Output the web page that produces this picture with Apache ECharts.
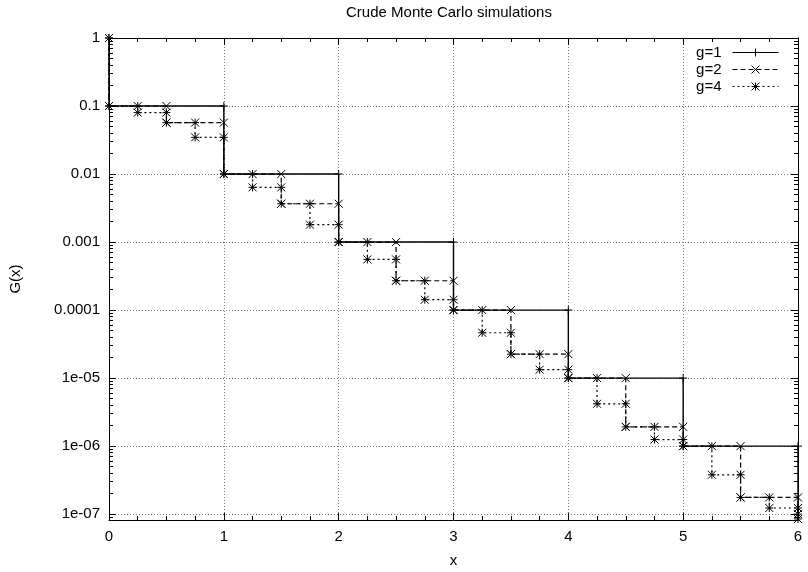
<!DOCTYPE html>
<html><head><meta charset="utf-8">
<script src="https://cdn.jsdelivr.net/npm/echarts@6/dist/echarts.min.js"></script>
<style>html,body{margin:0;padding:0;background:#fff}#c{width:808px;height:572px}</style>
</head><body><div id="c"></div>
<script>
// ---- data ----
const titleText = 'Crude Monte Carlo simulations';
const seriesNames = ['g=1', 'g=2', 'g=4'];
const xTickLabels = ['0', '1', '2', '3', '4', '5', '6'];
const yTickValues = [1, 0.1, 0.01, 0.001, 0.0001, 1e-5, 1e-6, 1e-7];
const yTickLabels = ['1', '0.1', '0.01', '0.001', '0.0001', '1e-05', '1e-06', '1e-07'];

// g=1 : steps of width 1
const g1Start = 1;
const g1Breaks = [0, 1, 2, 3, 4, 5, 6];
const g1Levels = [0.1, 0.01, 0.001, 1e-4, 1e-5, 1e-6];
const g1End = 1e-7;

// g=2 : steps of width 0.5
const g2Start = 1;
const g2Breaks = [0, 0.5, 1, 1.5, 2, 2.5, 3, 3.5, 4, 4.5, 5, 5.5, 6];
const g2Levels = [0.1, 0.057, 0.01, 0.00366, 0.001, 0.00027, 1e-4, 2.25e-5, 1e-5, 1.92e-6, 1e-6, 1.76e-7];
const g2End = 1e-7;

// g=4 : steps of width 0.25
const g4Start = 1;
const g4Breaks = [0, 0.25, 0.5, 0.75, 1, 1.25, 1.5, 1.75, 2, 2.25, 2.5, 2.75, 3, 3.25, 3.5, 3.75, 4, 4.25, 4.5, 4.75, 5, 5.25, 5.5, 5.75, 6];
const g4Levels = [0.1, 0.08, 0.057, 0.0346,
                  0.01, 0.00637, 0.00366, 0.0018,
                  0.001, 5.56e-4, 2.70e-4, 1.42e-4,
                  1e-4, 4.64e-5, 2.25e-5, 1.33e-5,
                  1e-5, 4.19e-6, 1.92e-6, 1.25e-6,
                  1e-6, 3.79e-7, 1.76e-7, 1.23e-7];
const g4End = 8.5e-8;

const yMin = 8.2e-8, yMax = 1;

// ---- build ----
function stepPoints(start, breaks, levels, end) {
  const pts = [[breaks[0], start]];
  for (let i = 0; i < levels.length; i++) {
    pts.push([breaks[i], levels[i]]);
    pts.push([breaks[i + 1], levels[i]]);
  }
  pts.push([breaks[breaks.length - 1], end]);
  return pts;
}
const yMinor = [];
for (let e = -8; e <= -1; e++) {
  for (let m = 2; m <= 9; m++) {
    const v = m * Math.pow(10, e);
    if (v >= yMin && v <= yMax) yMinor.push(v);
  }
}
function yLabel(v) {
  v = Number(v);
  if (!(v > 0)) return '';
  const e = Math.log10(v);
  for (let i = 0; i < yTickValues.length; i++) {
    if (Math.abs(e - Math.log10(yTickValues[i])) < 1e-3) return yTickLabels[i];
  }
  return '';
}

const FONT = '"Liberation Sans", Arial, Helvetica, sans-serif';
const plusPath = 'path://M5 0L5 10M0 5L10 5';
const crossPath = 'path://M0 0L10 10M10 0L0 10';
const starPath = 'path://M5 0L5 10M0 5L10 5M0 0L10 10M10 0L0 10';

const gridLine = { show: true, lineStyle: { color: '#777', type: [1, 2], width: 1 } };
const blackLine = { show: true, lineStyle: { color: '#000', width: 1 } };

function yAx(opts) {
  return Object.assign({
    type: 'log', logBase: 10, min: yMin, max: yMax,
    axisLine: blackLine,
    axisLabel: { show: true, customValues: yTickValues, formatter: () => '' },
    axisTick: { show: true, inside: true, length: 7, customValues: yTickValues, lineStyle: { color: '#000' } },
    splitLine: { show: false }
  }, opts);
}

const chart = echarts.init(document.getElementById('c'), null, { renderer: 'canvas' });
chart.setOption({
  animation: false,
  backgroundColor: '#fff',
  textStyle: { fontFamily: FONT, color: '#000' },
  title: {
    text: titleText, left: 449, top: 5, textAlign: 'center', padding: 0,
    textStyle: { fontSize: 15, fontWeight: 'normal', color: '#000', fontFamily: FONT }
  },
  grid: { left: 109, right: 10, top: 38, bottom: 52, containLabel: false, outerBoundsMode: 'none' },
  legend: {
    orient: 'vertical', right: 29, top: 45, align: 'right', padding: 0,
    itemWidth: 46, itemHeight: 10, itemGap: 2,
    lineStyle: { width: 1 },
    itemStyle: { borderWidth: 1 },
    textStyle: { fontSize: 15, color: '#000', fontFamily: FONT, padding: [0, 6, 0, 0] },
    data: seriesNames
  },
  xAxis: [
    {
      type: 'value', position: 'bottom', min: 0, max: 6, interval: 1,
      name: 'x', nameLocation: 'middle', nameGap: 33,
      nameTextStyle: { fontSize: 15, color: '#000', fontFamily: FONT },
      axisLine: blackLine,
      axisTick: { show: true, inside: true, length: 7, lineStyle: { color: '#000' } },
      minorTick: { show: true, splitNumber: 4, length: 4, lineStyle: { color: '#000' } },
      axisLabel: { fontSize: 15, color: '#000', margin: 9, fontFamily: FONT,
        formatter: (v) => xTickLabels[Math.round(v)] },
      splitLine: gridLine
    },
    {
      type: 'value', position: 'top', min: 0, max: 6, interval: 1,
      axisLine: blackLine,
      axisTick: { show: true, inside: true, length: 7, lineStyle: { color: '#000' } },
      minorTick: { show: true, splitNumber: 4, length: 4, lineStyle: { color: '#000' } },
      axisLabel: { show: false }, splitLine: { show: false }
    }
  ],
  yAxis: [
    yAx({
      position: 'left',
      name: 'G(x)', nameLocation: 'middle', nameGap: 86, nameRotate: 90,
      nameTextStyle: { fontSize: 15, color: '#000', fontFamily: FONT },
      axisLabel: { show: true, customValues: yTickValues, fontSize: 15, color: '#000', margin: 9, fontFamily: FONT, formatter: yLabel },
      splitLine: gridLine
    }),
    yAx({
      position: 'left',
      axisLabel: { show: true, customValues: yMinor, formatter: () => '' },
      axisTick: { show: true, inside: true, length: 4, customValues: yMinor, lineStyle: { color: '#000' } }
    }),
    yAx({ position: 'right' }),
    yAx({
      position: 'right',
      axisLabel: { show: true, customValues: yMinor, formatter: () => '' },
      axisTick: { show: true, inside: true, length: 4, customValues: yMinor, lineStyle: { color: '#000' } }
    })
  ],
  series: [
    {
      name: seriesNames[0], type: 'line', clip: false, z: 5,
      data: stepPoints(g1Start, g1Breaks, g1Levels, g1End),
      symbol: plusPath, symbolSize: 8,
      lineStyle: { color: '#000', width: 1.4, type: 'solid' },
      itemStyle: { color: '#000', borderColor: '#000', borderWidth: 1 }
    },
    {
      name: seriesNames[1], type: 'line', clip: false, z: 4,
      data: stepPoints(g2Start, g2Breaks, g2Levels, g2End),
      symbol: crossPath, symbolSize: 8,
      lineStyle: { color: '#000', width: 1.2, type: [5, 3] },
      itemStyle: { color: '#000', borderColor: '#000', borderWidth: 1 }
    },
    {
      name: seriesNames[2], type: 'line', clip: false, z: 3,
      data: stepPoints(g4Start, g4Breaks, g4Levels, g4End),
      symbol: starPath, symbolSize: 8,
      lineStyle: { color: '#000', width: 1.2, type: [2, 3] },
      itemStyle: { color: '#000', borderColor: '#000', borderWidth: 1 }
    }
  ]
});
</script>
</body></html>
